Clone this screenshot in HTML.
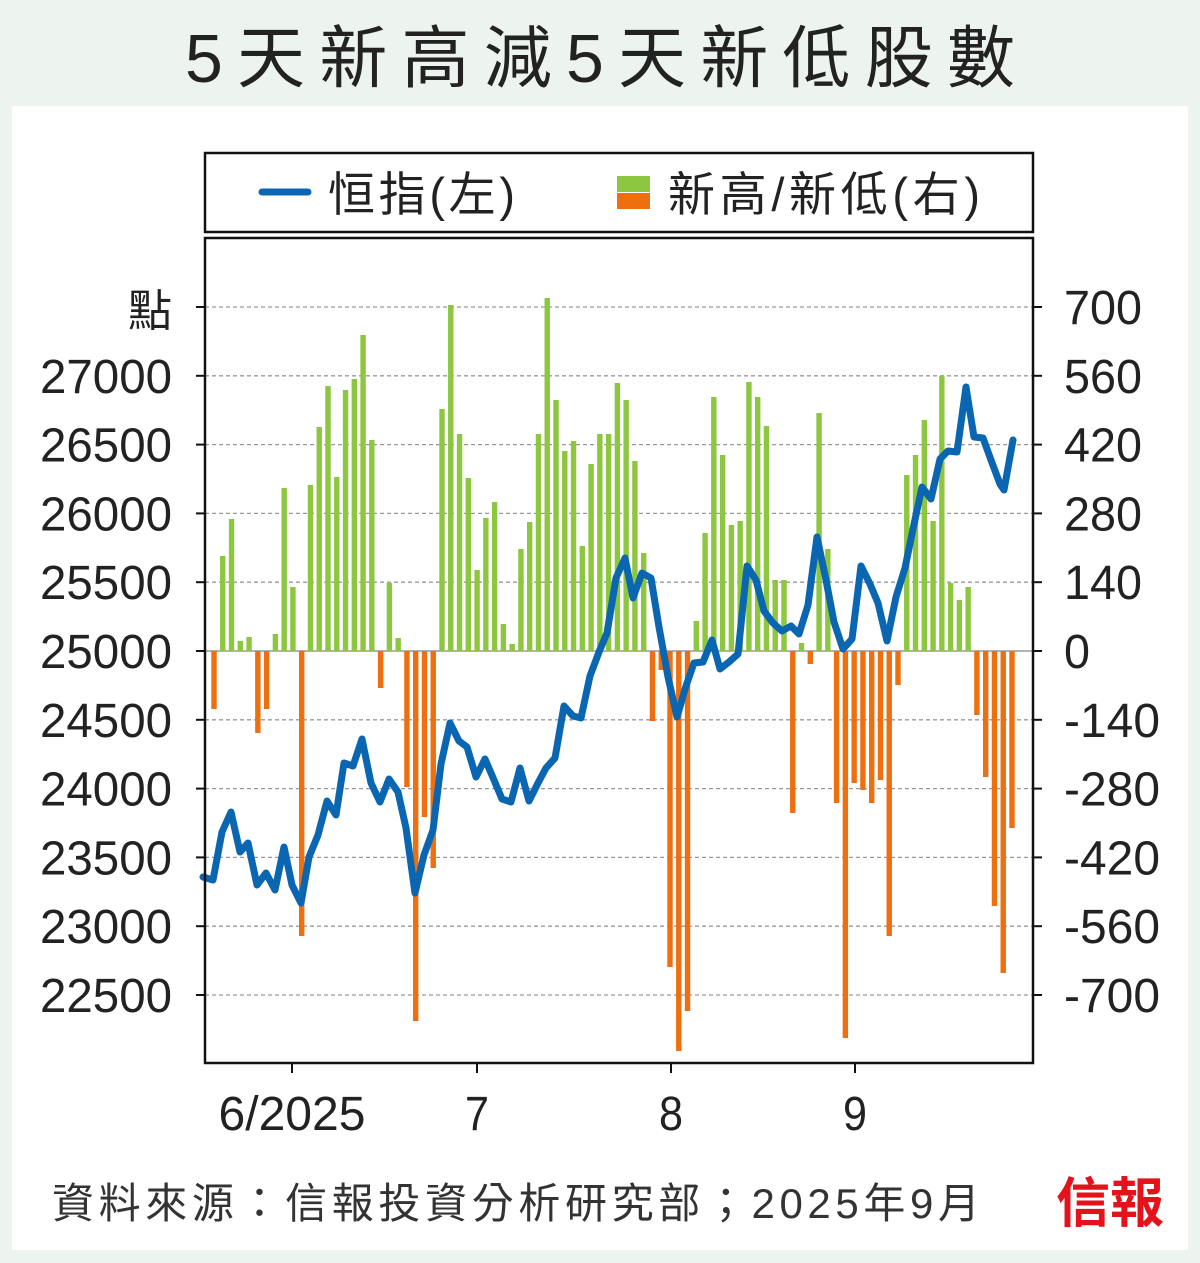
<!DOCTYPE html>
<html><head><meta charset="utf-8"><style>
html,body{margin:0;padding:0;background:#edf3ee;}
svg{display:block}
text{font-family:"Liberation Sans","Noto Sans CJK TC",sans-serif;}
</style></head><body>
<svg id="s" width="1200" height="1263" viewBox="0 0 1200 1263" xmlns="http://www.w3.org/2000/svg">
<rect x="0" y="0" width="1200" height="1263" fill="#edf3ee"/>
<rect x="12" y="106" width="1176" height="1144" fill="#fff"/>
<text x="185" y="82" font-size="68" fill="#222" textLength="830" lengthAdjust="spacing">5天新高減5天新低股數</text>
<rect x="205" y="153" width="828" height="79" fill="none" stroke="#111" stroke-width="2.5"/>
<line x1="262" y1="192" x2="308" y2="192" stroke="#0b66b2" stroke-width="7" stroke-linecap="round"/>
<text x="328" y="211" font-size="47" fill="#222" textLength="187" lengthAdjust="spacing">恒指(左)</text>
<rect x="617" y="176" width="33" height="16" fill="#8dc63f"/>
<rect x="617" y="193" width="33" height="16" fill="#ee6f0f"/>
<text x="668" y="211" font-size="47" fill="#222" textLength="312" lengthAdjust="spacing">新高/新低(右)</text>
<g id="grid"></g>
<g id="bars"></g>
<polyline id="ln" fill="none" stroke="#0b66b2" stroke-width="7" stroke-linejoin="round" stroke-linecap="round"/>
<rect x="205" y="238" width="828" height="825" fill="none" stroke="#111" stroke-width="2.5"/>
<text x="172" y="326" text-anchor="end" font-size="44" fill="#222">點</text>
<g id="lbl" font-size="48" fill="#222"></g>
<text x="52" y="1218" font-size="42" fill="#333" textLength="928" lengthAdjust="spacing">資料來源：信報投資分析研究部；2025年9月</text>
<text x="1056" y="1222" font-size="54" font-weight="bold" fill="#e3121b" font-family="'Noto Serif CJK SC',serif">信報</text>
</svg>
<script>
var ns="http://www.w3.org/2000/svg";
function el(p,t,a,txt){var e=document.createElementNS(ns,t);for(var k in a)e.setAttribute(k,a[k]);if(txt!=null)e.textContent=txt;document.getElementById(p).appendChild(e);return e;}
var L=[27000,26500,26000,25500,25000,24500,24000,23500,23000,22500];
var R=[700,560,420,280,140,0,-140,-280,-420,-560,-700];
for(var i=0;i<11;i++){var y=307+i*68.8;
 if(i!=5)el("grid","line",{x1:205,x2:1033,y1:y,y2:y,stroke:"#999","stroke-width":1.3,"stroke-dasharray":"4,3"});
 el("grid","line",{x1:196,x2:205,y1:y,y2:y,stroke:"#111","stroke-width":2});
 el("grid","line",{x1:1033,x2:1042,y1:y,y2:y,stroke:"#111","stroke-width":2});
 var s=String(R[i]);var w=s.replace("-","").length*26+(s[0]=="-"?18:0);
 el("lbl","text",{x:1064,y:y+17,textLength:w,lengthAdjust:"spacingAndGlyphs"},s);
 if(i>0)el("lbl","text",{x:40,y:y+17,textLength:132,lengthAdjust:"spacingAndGlyphs"},L[i-1]);
}
el("grid","line",{x1:205,x2:1033,y1:651,y2:651,stroke:"#999","stroke-width":1.5});
[[292,"6/2025",147],[477,"7",24],[671,"8",24],[855,"9",24]].forEach(function(t){
 el("grid","line",{x1:t[0],x2:t[0],y1:1063,y2:1073,stroke:"#111","stroke-width":2});
 el("lbl","text",{x:t[0]-t[2]/2,y:1130,textLength:t[2],lengthAdjust:"spacingAndGlyphs"},t[1]);
});
var B=[709,556,519,641,637,733,709,634,488,587,936,485,427,386,477,390,379,335,440,688,583,638,787,1021,817,868,409,305,434,478,570,518,502,624,644,549,522,434,298,400,451,441,546,464,434,434,383,400,461,553,721,670,967,1051,1011,621,533,397,455,525,521,382,397,426,580,580,813,643,664,413,549,803,1038,783,790,803,780,936,685,475,455,420,521,376,583,600,587,715,777,906,973,828];
var x0=214,dx=(1012-214)/(B.length-1);
B.forEach(function(v,i){var x=x0+i*dx;var up=v<651;
 el("bars","rect",{x:x-2.7,y:up?v:651,width:5.4,height:Math.abs(v-651),fill:up?"#8dc63f":"#ee6f0f"});});
var P="203,877 213,880 222,832 231,812 240,852 248,843 257,885 266,873 275,890 284,847 292,885 301,903 309,857 318,835 327,801 336,815 344,763 353,766 362,739 371,783 380,802 389,779 398,792 406,828 415,893 424,855 433,830 441,764 450,723 459,741 467,747 476,777 485,759 494,780 502,799 511,802 520,768 529,801 538,783 546,768 555,758 564,706 573,716 581,718 590,676 599,652 607,633 616,578 625,558 633,598 642,573 651,578 659,627 668,677 677,717 686,686 694,663 703,662 712,640 720,669 729,662 738,654 747,566 756,580 764,611 773,623 782,631 791,626 799,634 808,605 817,537 826,580 834,622 843,649 852,639 861,566 870,584 878,603 887,641 896,597 905,568 913,529 922,487 931,499 940,459 948,451 957,452 966,387 974,437 983,438 991,460 1000,484 1004,490 1013,440";
document.getElementById("ln").setAttribute("points",P);
</script>
</body></html>
